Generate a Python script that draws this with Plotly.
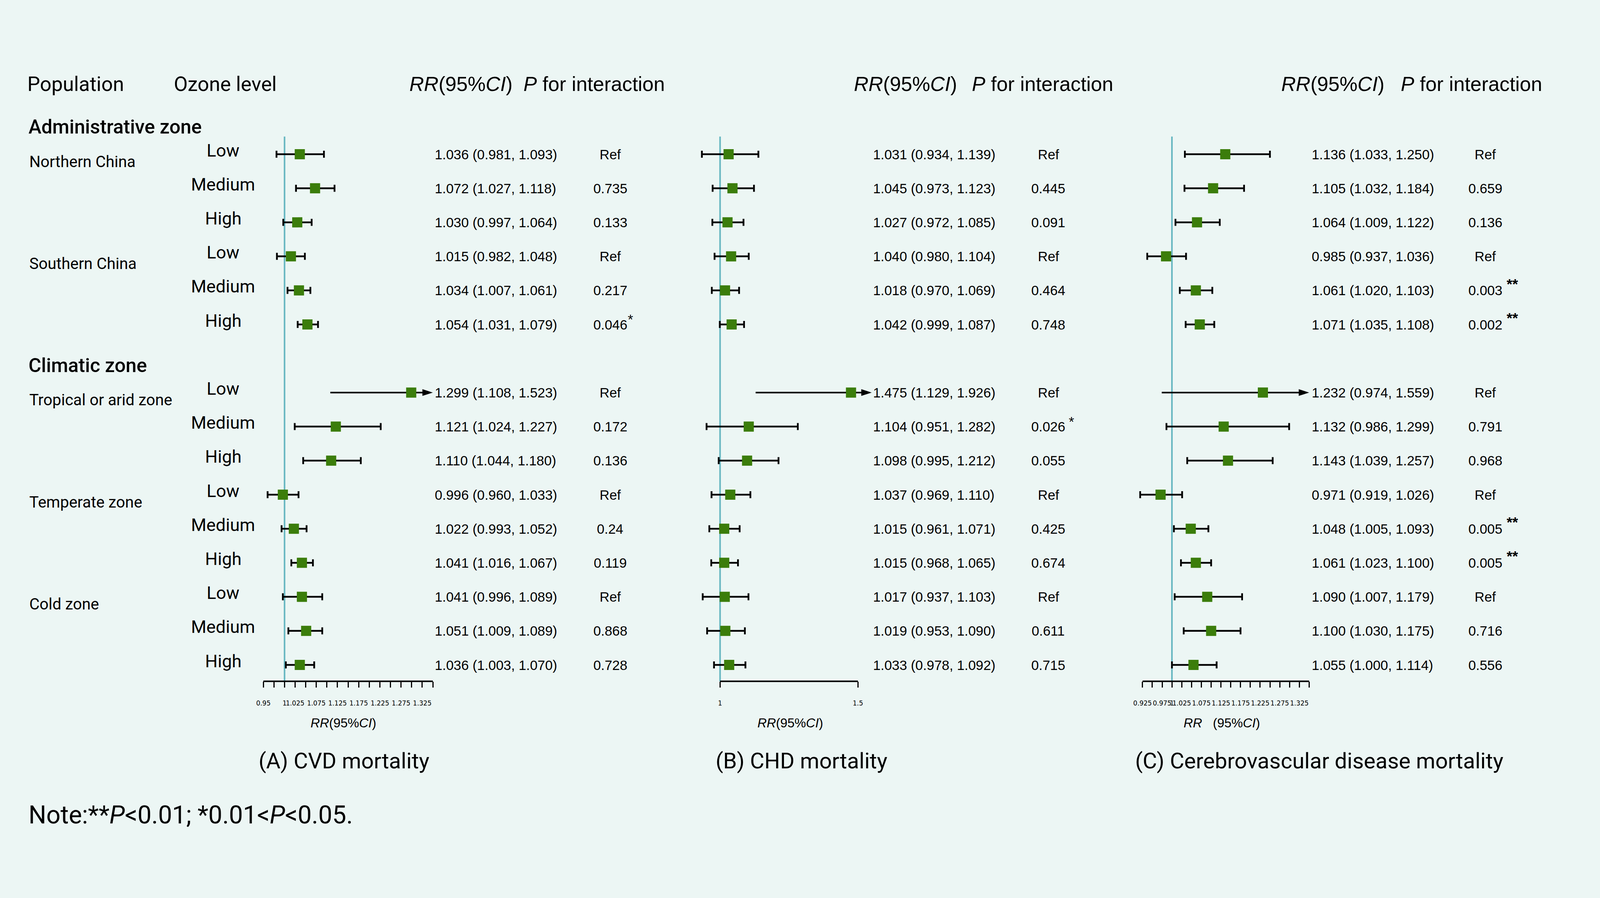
import plotly.graph_objects as go

# ---- table structure ----
sections = ["Administrative zone", "Climatic zone"]
section_groups = [["Northern China", "Southern China"],
                  ["Tropical or arid zone", "Temperate zone", "Cold zone"]]
levels = ["Low", "Medium", "High"]

panel_titles = ["(A) CVD mortality", "(B) CHD mortality",
                "(C) Cerebrovascular disease mortality"]
axis_titles = ["<i>RR</i>(95%<i>CI</i>)", "<i>RR</i>(95%<i>CI</i>)",
               "<i>RR</i>\u00a0\u00a0\u00a0(95%<i>CI</i>)"]

# ---- (A) CVD mortality ----
rr_cvd = [1.036, 1.072, 1.030, 1.015, 1.034, 1.054,
          1.299, 1.121, 1.110, 0.996, 1.022, 1.041, 1.041, 1.051, 1.036]
lo_cvd = [0.981, 1.027, 0.997, 0.982, 1.007, 1.031,
          1.108, 1.024, 1.044, 0.960, 0.993, 1.016, 0.996, 1.009, 1.003]
hi_cvd = [1.093, 1.118, 1.064, 1.048, 1.061, 1.079,
          1.523, 1.227, 1.180, 1.033, 1.052, 1.067, 1.089, 1.089, 1.070]
p_cvd = ["Ref", "0.735", "0.133", "Ref", "0.217", "0.046",
         "Ref", "0.172", "0.136", "Ref", "0.24", "0.119", "Ref", "0.868", "0.728"]
star_cvd = ["", "", "", "", "", "*", "", "", "", "", "", "", "", "", ""]

# ---- (B) CHD mortality ----
rr_chd = [1.031, 1.045, 1.027, 1.040, 1.018, 1.042,
          1.475, 1.104, 1.098, 1.037, 1.015, 1.015, 1.017, 1.019, 1.033]
lo_chd = [0.934, 0.973, 0.972, 0.980, 0.970, 0.999,
          1.129, 0.951, 0.995, 0.969, 0.961, 0.968, 0.937, 0.953, 0.978]
hi_chd = [1.139, 1.123, 1.085, 1.104, 1.069, 1.087,
          1.926, 1.282, 1.212, 1.110, 1.071, 1.065, 1.103, 1.090, 1.092]
p_chd = ["Ref", "0.445", "0.091", "Ref", "0.464", "0.748",
         "Ref", "0.026", "0.055", "Ref", "0.425", "0.674", "Ref", "0.611", "0.715"]
star_chd = ["", "", "", "", "", "", "", "*", "", "", "", "", "", "", ""]

# ---- (C) Cerebrovascular disease mortality ----
rr_cbv = [1.136, 1.105, 1.064, 0.985, 1.061, 1.071,
          1.232, 1.132, 1.143, 0.971, 1.048, 1.061, 1.090, 1.100, 1.055]
lo_cbv = [1.033, 1.032, 1.009, 0.937, 1.020, 1.035,
          0.974, 0.986, 1.039, 0.919, 1.005, 1.023, 1.007, 1.030, 1.000]
hi_cbv = [1.250, 1.184, 1.122, 1.036, 1.103, 1.108,
          1.559, 1.299, 1.257, 1.026, 1.093, 1.100, 1.179, 1.175, 1.114]
p_cbv = ["Ref", "0.659", "0.136", "Ref", "0.003", "0.002",
         "Ref", "0.791", "0.968", "Ref", "0.005", "0.005", "Ref", "0.716", "0.556"]
star_cbv = ["", "", "", "", "**", "**", "", "", "", "", "**", "**", "", "", ""]

# ---- axis ticks ----
ticks_cvd = [0.95, 0.975, 1.0, 1.025, 1.05, 1.075, 1.1, 1.125, 1.15,
             1.175, 1.2, 1.225, 1.25, 1.275, 1.3, 1.325, 1.35]
ticklabels_cvd = ["0.95", "", "1", "1.025", "", "1.075", "", "1.125", "",
                  "1.175", "", "1.225", "", "1.275", "", "1.325", ""]
ticks_chd = [1.0, 1.5]
ticklabels_chd = ["1", "1.5"]
ticks_cbv = [0.925, 0.95, 0.975, 1.0, 1.025, 1.05, 1.075, 1.1, 1.125, 1.15,
             1.175, 1.2, 1.225, 1.25, 1.275, 1.3, 1.325, 1.35]
ticklabels_cbv = ["0.925", "", "0.975", "1", "1.025", "", "1.075", "", "1.125", "",
                  "1.175", "", "1.225", "", "1.275", "", "1.325", ""]

# upper CI values above these are cut and drawn as arrows
arrow_limit = [1.35, 1.55, 1.35]

panel_data = [
    (rr_cvd, lo_cvd, hi_cvd, p_cvd, star_cvd, ticks_cvd, ticklabels_cvd),
    (rr_chd, lo_chd, hi_chd, p_chd, star_chd, ticks_chd, ticklabels_chd),
    (rr_cbv, lo_cbv, hi_cbv, p_cbv, star_cbv, ticks_cbv, ticklabels_cbv),
]

# ---- page geometry ----
# positions below are measured on a 4504 x 2300 sheet; the browser page is
# only 4096 px wide, so the figure is drawn at that width with the same
# proportions and slightly smaller type.
REF_W, H = 4504, 2300
W = 4096
FS = 0.94
ROW0_PX, ROW_PX = 395, 87.2
AXIS_PX = 1745
BG = "#ECF6F4"
GREEN = "#3B7D0B"
REFLINE = "#66B6C0"
ROBOTO = "Roboto"
ARIAL = "Liberation Sans, Arial"
NARROW = "Liberation Sans Narrow, DejaVu Sans Condensed, Liberation Sans"

panel_layout = [
    dict(one=801, unit=1192.5, dom=(690, 1270), val_x=1222, p_x=1718, star_dx=47,
         rr_head=1150, p_head=1471, ax_title_x=967, title_x=968),
    dict(one=2027, unit=776, dom=(1930, 2490), val_x=2455, p_x=2951, star_dx=55,
         rr_head=2401, p_head=2734, ax_title_x=2224, title_x=2256),
    dict(one=3299, unit=1103.5, dom=(3160, 3720), val_x=3690, p_x=4181, star_dx=58,
         rr_head=3605, p_head=3941, ax_title_x=3440, title_x=3714),
]


def fx(px):
    return px / REF_W


def fy(py):
    return 1 - py / H


def prow(py):
    return (py - ROW0_PX) / ROW_PX


# row positions: one blank slot before every section except the first
row_y, group_first, section_first = [], [], []
r = 0
for s, groups in enumerate(section_groups):
    if s > 0:
        r += 1
    section_first.append(r)
    for g in groups:
        group_first.append(r)
        for lev in levels:
            row_y.append(r)
            r += 1

fig = go.Figure()
annotations = []
shapes = []


def text(t, x, y, size, family=ROBOTO, xanchor="left", yref="paper",
         yshift=0, weight=None):
    font = dict(family=family, size=round(size * FS, 1), color="black")
    if weight:
        font["weight"] = weight
    annotations.append(dict(text=t, x=x, y=y, xref="paper", yref=yref,
                            xanchor=xanchor, yanchor="middle", showarrow=False,
                            yshift=yshift, font=font))


# left columns
text("Population", fx(75), fy(215), 55)
text("Ozone level", fx(487), fy(215), 55)
for s, name in enumerate(sections):
    text(name, fx(78), section_first[s] - 0.8, 53, yref="y", weight=500)
names = [g for groups in section_groups for g in groups]
for g, name in enumerate(names):
    text(name, fx(80), group_first[g] + 0.22, 43, yref="y")
for i, yv in enumerate(row_y):
    text(levels[i % 3], fx(628), yv, 48, xanchor="center", yref="y", yshift=10)

layout_axes = {}
for k, ((rr, lo, hi, pv, st, tv, tt), pl) in enumerate(zip(panel_data, panel_layout)):
    xname = "x" if k == 0 else f"x{k + 1}"
    axkey = "xaxis" if k == 0 else f"xaxis{k + 1}"
    d0, d1 = pl["dom"]
    rng = [1 + (d0 - pl["one"]) / pl["unit"], 1 + (d1 - pl["one"]) / pl["unit"]]
    layout_axes[axkey] = dict(
        domain=[fx(d0), fx(d1)], range=rng, anchor="free", position=fy(AXIS_PX),
        tickmode="array", tickvals=tv, ticktext=tt, ticks="outside",
        ticklen=15, tickwidth=3, tickcolor="black", showline=False,
        showgrid=False, zeroline=False, fixedrange=True, tickangle=0,
        tickfont=dict(family=NARROW, size=18.5, color="black"),
        ticklabelstandoff=24,
    )

    lim = arrow_limit[k]
    clipped = [h > lim for h in hi]

    # arrows for intervals running past the axis
    for i in range(len(rr)):
        if clipped[i]:
            fig.add_trace(go.Scatter(
                x=[lo[i], lim], y=[row_y[i], row_y[i]], xaxis=xname, yaxis="y",
                mode="lines+markers", line=dict(color="black", width=4),
                marker=dict(symbol="arrow", angleref="previous", size=28,
                            color="black"),
                showlegend=False, hoverinfo="skip"))

    fig.add_trace(go.Scatter(
        x=rr, y=row_y, xaxis=xname, yaxis="y", mode="markers",
        marker=dict(symbol="square", size=26, color=GREEN),
        error_x=dict(type="data", symmetric=False,
                     array=[0 if c else h - v for v, h, c in zip(rr, hi, clipped)],
                     arrayminus=[0 if c else v - l for v, l, c in zip(rr, lo, clipped)],
                     color="black", thickness=4.5, width=9),
        showlegend=False,
        hovertemplate="RR %{x:.3f}<extra></extra>"))

    # reference line at RR = 1 and the axis line
    shapes.append(dict(type="line", xref=xname, yref="y", x0=1, x1=1,
                       y0=-0.52, y1=prow(AXIS_PX), layer="below",
                       line=dict(color=REFLINE, width=4)))
    shapes.append(dict(type="line", xref=xname, yref="y", x0=tv[0], x1=tv[-1],
                       y0=prow(AXIS_PX), y1=prow(AXIS_PX),
                       line=dict(color="black", width=4)))

    # column headers
    text("<i>RR</i>(95%<i>CI</i>)", fx(pl["rr_head"]), fy(215), 55, family=ARIAL)
    text("<i>P</i> for interaction", fx(pl["p_head"]), fy(215), 55, family=ARIAL)

    # estimate and p-value columns
    for i in range(len(rr)):
        text(f"{rr[i]:.3f} ({lo[i]:.3f}, {hi[i]:.3f})", fx(pl["val_x"]),
             row_y[i], 37, family=ARIAL, yref="y")
        text(pv[i], fx(pl["p_x"]), row_y[i], 37, family=ARIAL,
             xanchor="center", yref="y")
        if st[i]:
            big = len(st[i]) > 1
            text(f"<b>{st[i]}</b>" if big else st[i],
                 fx(pl["p_x"] + pl["star_dx"]), row_y[i],
                 40 if big else 38, family=ARIAL, yref="y",
                 yshift=16 if big else 13)

    text(axis_titles[k], fx(pl["ax_title_x"]), fy(1851), 35, family=ARIAL,
         xanchor="center")
    text(panel_titles[k], fx(pl["title_x"]), fy(1949), 60, xanchor="center")

text("Note:**<i>P</i><0.01; *0.01<<i>P</i><0.05.", fx(78), fy(2087), 68)

fig.update_layout(
    width=W, height=H,
    margin=dict(l=0, r=0, t=0, b=0),
    paper_bgcolor=BG, plot_bgcolor=BG,
    yaxis=dict(domain=[0, 1], range=[prow(H), prow(0)], visible=False,
               fixedrange=True),
    annotations=annotations, shapes=shapes,
    showlegend=False,
    **layout_axes,
)

fig.write_html("out.html", config={"displayModeBar": False},
               post_script="document.body.style.margin = '0';")
